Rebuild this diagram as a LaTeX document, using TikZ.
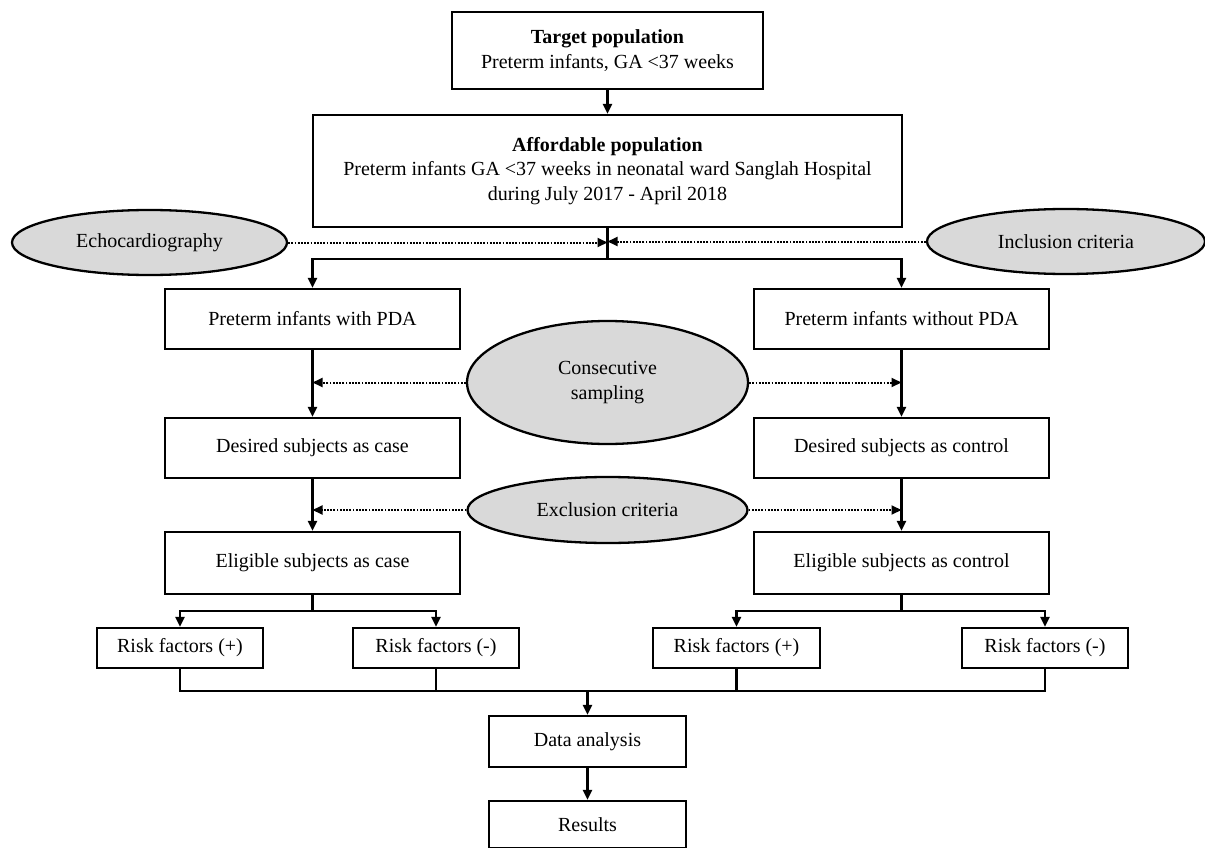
\documentclass[tikz,border=0pt]{standalone}
\usepackage{fontspec}
\setmainfont{Liberation Serif}
\usetikzlibrary{shapes.geometric,arrows.meta}
\definecolor{ovalgray}{RGB}{217,217,217}
\begin{document}
\begin{tikzpicture}[x=1pt,y=-1pt,
  txt/.style={font=\fontsize{20}{24.5}\selectfont},
  box/.style={txt, draw, line width=2.3pt, inner sep=0pt, align=center},
  oval/.style={txt, ellipse, draw, line width=2.3pt, fill=ovalgray, inner sep=0pt, align=center},
  ln/.style={line width=2.2pt},
  arr/.style={line width=2.2pt, -{Triangle[length=10pt,width=9pt]}},
  dot/.style={line width=2pt, dash pattern=on 1.8pt off 1.4pt, -{Triangle[length=10pt,width=9pt]}}]

\useasboundingbox (0,0) rectangle (1205,848);

% boxes
\node[box, minimum width=311pt, minimum height=77pt] (target) at (607.5,50.5)
  {\textbf{Target population}\\Preterm infants, GA <37 weeks};
\node[box, minimum width=589pt, minimum height=112pt] (afford) at (607.5,171)
  {\textbf{Affordable population}\\Preterm infants GA <37 weeks in neonatal ward Sanglah Hospital\\during July 2017 - April 2018};

\node[oval, minimum width=275pt, minimum height=65pt] (echo) at (149.5,242.5) {Echocardiography};
\node[oval, minimum width=278pt, minimum height=65pt] (incl) at (1066,241.5) {Inclusion criteria};

\node[box, minimum width=295pt, minimum height=60pt] (pda) at (312.5,319) {Preterm infants with PDA};
\node[box, minimum width=295pt, minimum height=60pt] (nopda) at (901.5,319) {Preterm infants without PDA};

\node[oval, minimum width=281pt, minimum height=123pt] (consec) at (607.5,382.5) {Consecutive\\sampling};

\node[box, minimum width=295pt, minimum height=60pt] (descase) at (312.5,448) {Desired subjects as case};
\node[box, minimum width=295pt, minimum height=60pt] (desctrl) at (901.5,448) {Desired subjects as control};

\node[oval, minimum width=280pt, minimum height=66pt] (excl) at (607.5,510) {Exclusion criteria};

\node[box, minimum width=295pt, minimum height=62pt] (eligcase) at (312.5,563) {Eligible subjects as case};
\node[box, minimum width=295pt, minimum height=62pt] (eligctrl) at (901.5,563) {Eligible subjects as control};

\node[box, minimum width=166pt, minimum height=40pt] (rpl) at (180,648) {Risk factors (+)};
\node[box, minimum width=166pt, minimum height=40pt] (rml) at (436,648) {Risk factors (-)};
\node[box, minimum width=167pt, minimum height=40pt] (rpr) at (736.5,648) {Risk factors (+)};
\node[box, minimum width=166pt, minimum height=40pt] (rmr) at (1045,648) {Risk factors (-)};

\node[box, minimum width=197pt, minimum height=51pt] (data) at (587.5,741.5) {Data analysis};
\node[box, minimum width=197pt, minimum height=47pt] (results) at (587.5,824.5) {Results};

% connectors
\draw[arr] (target.south) -- (target.south |- afford.north);
\coordinate (j1) at (607.5,259);
\draw[ln] (afford.south) -- (j1);
\draw[arr] (j1) -| (pda.north);
\draw[arr] (j1) -| (nopda.north);
\draw[dot] (echo.east) -- (echo.east -| j1);
\draw[dot] (incl.west) -- (incl.west -| j1);

\draw[arr] (pda) -- (descase);
\draw[arr] (nopda) -- (desctrl);
\draw[dot] (consec.west) -- (consec.west -| pda.south);
\draw[dot] (consec.east) -- (consec.east -| nopda.south);

\draw[arr] (descase) -- (eligcase);
\draw[arr] (desctrl) -- (eligctrl);
\draw[dot] (excl.west) -- (excl.west -| descase.south);
\draw[dot] (excl.east) -- (excl.east -| desctrl.south);

\coordinate (jl) at (312.5,611);
\coordinate (jr) at (901.5,611);
\draw[ln] (eligcase.south) -- (jl);
\draw[arr] (jl) -| (rpl.north);
\draw[arr] (jl) -| (rml.north);
\draw[ln] (eligctrl.south) -- (jr);
\draw[arr] (jr) -| (rpr.north);
\draw[arr] (jr) -| (rmr.north);

\coordinate (jb) at (587.5,691);
\draw[ln] (rpl.south) -- (rpl.south |- jb) -- (rmr.south |- jb) -- (rmr.south);
\draw[ln] (rml.south) -- (rml.south |- jb);
\draw[ln] (rpr.south) -- (rpr.south |- jb);
\draw[arr] (jb) -- (data);
\draw[arr] (data) -- (results);
\end{tikzpicture}
\end{document}
